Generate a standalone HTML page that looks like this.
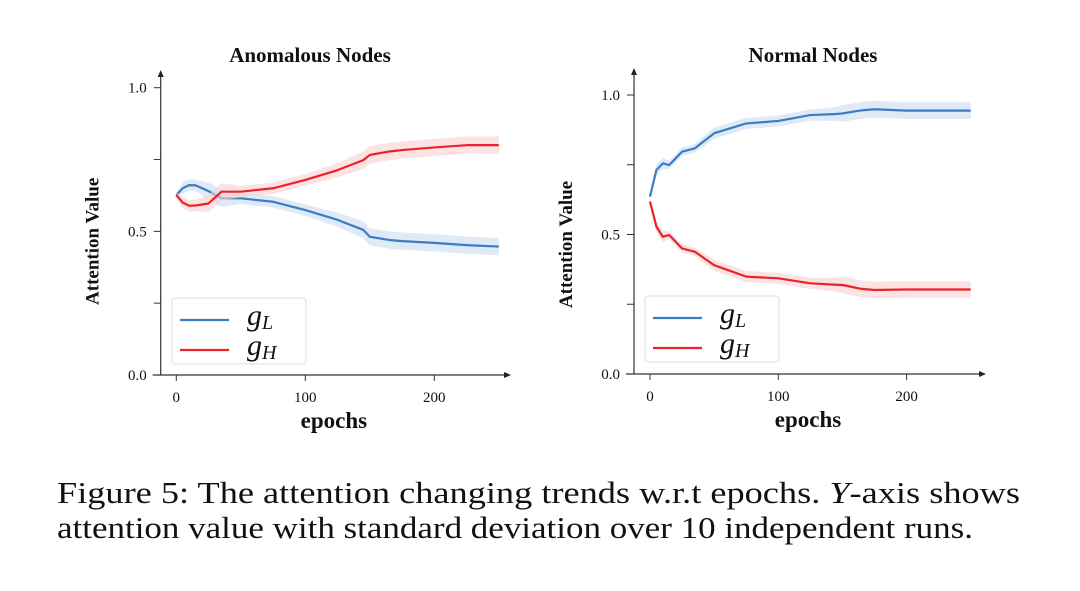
<!DOCTYPE html>
<html><head><meta charset="utf-8"><style>
html,body{margin:0;padding:0;background:#fff;}
svg text{font-family:"Liberation Serif",serif;fill:#111;}
</style></head><body>
<svg id="fig" width="1080" height="586" viewBox="0 0 1080 586" xmlns="http://www.w3.org/2000/svg">
<text x="310" y="62" font-size="21" font-weight="bold" text-anchor="middle">Anomalous Nodes</text>
<text x="813" y="62" font-size="21" font-weight="bold" text-anchor="middle">Normal Nodes</text>
<text x="57" y="503" font-size="31" textLength="963" lengthAdjust="spacingAndGlyphs">Figure 5: The attention changing trends w.r.t epochs. <tspan font-style="italic">Y</tspan>-axis shows</text>
<text x="57" y="538" font-size="31" textLength="916" lengthAdjust="spacingAndGlyphs">attention value with standard deviation over 10 independent runs.</text>
</svg>
<script>
const epochs = [0,5,10,15,25,35,50,75,100,125,145,150,165,175,200,225,250];
const anomL = [0.626,0.650,0.661,0.660,0.640,0.615,0.615,0.603,0.574,0.540,0.505,0.481,0.470,0.466,0.460,0.452,0.447];
const anomH = [0.626,0.600,0.589,0.590,0.597,0.638,0.638,0.650,0.679,0.713,0.748,0.766,0.778,0.783,0.792,0.800,0.800];
const anomStd = [0.01,0.02,0.02,0.02,0.03,0.03,0.02,0.02,0.02,0.025,0.03,0.03,0.03,0.03,0.03,0.03,0.03];
const normL = [0.636,0.731,0.755,0.749,0.797,0.809,0.863,0.898,0.907,0.928,0.932,0.934,0.945,0.949,0.944,0.944,0.944];
const normH = [0.618,0.528,0.492,0.498,0.450,0.438,0.390,0.349,0.343,0.325,0.320,0.319,0.305,0.301,0.303,0.303,0.303];
const normStd = [0.01,0.02,0.02,0.015,0.015,0.015,0.02,0.02,0.02,0.02,0.025,0.03,0.03,0.03,0.03,0.03,0.03];
const xTicks = [0,100,200];
const yTickLabels = ['0.0','0.5','1.0'];
const yTicks = [0,0.25,0.5,0.75,1.0];

const NS='http://www.w3.org/2000/svg';
const svg=document.getElementById('fig');
function mk(tag,attrs,parent){const e=document.createElementNS(NS,tag);for(const k in attrs)e.setAttribute(k,attrs[k]);(parent||svg).appendChild(e);return e;}

function panel(p){
  const g=mk('g',{});
  
  
  const sx=v=>p.x0+(v/100)*(p.x100-p.x0);
  const sy=v=>p.y0+v*(p.y1-p.y0);
  [[p.L,'#3b7dc4','#c9dcf0','series-gl'],[p.H,'#e8242a','#f8cfd0','series-gh']].forEach(([arr,c,fc,nm])=>{
    let up=epochs.map((e,i)=>sx(e)+','+sy(arr[i]+p.std[i]));
    let dn=epochs.map((e,i)=>sx(e)+','+sy(arr[i]-p.std[i])).reverse();
    const band=mk('polygon',{points:up.concat(dn).join(' '),fill:fc,'fill-opacity':0.6},g);
    
    
    const ln=mk('polyline',{points:epochs.map((e,i)=>sx(e)+','+sy(arr[i])).join(' '),fill:'none',stroke:c,'stroke-width':2.2,'stroke-linejoin':'round'},g);
    
    
  });
  const ya=mk('line',{x1:p.ax,y1:p.y0,x2:p.ax,y2:p.top+4,stroke:'#333','stroke-width':1.2},g);
  
  
  mk('polygon',{points:`${p.ax-3},${p.top+7} ${p.ax+3},${p.top+7} ${p.ax},${p.top}`,fill:'#222'},g);
  const xa=mk('line',{x1:p.ax-8,y1:p.y0,x2:p.right-4,y2:p.y0,stroke:'#333','stroke-width':1.2},g);
  
  
  mk('polygon',{points:`${p.right-7},${p.y0-3} ${p.right-7},${p.y0+3} ${p.right},${p.y0}`,fill:'#222'},g);
  yTicks.forEach(v=>{mk('line',{x1:p.ax-7,y1:sy(v),x2:p.ax,y2:sy(v),stroke:'#333','stroke-width':1},g);});
  yTickLabels.forEach(s=>{
    const t=mk('text',{x:p.ax-14,y:sy(parseFloat(s))+5,'font-size':15,'text-anchor':'end'},g);
    t.textContent=s;
    
    
  });
  xTicks.forEach(v=>{
    mk('line',{x1:sx(v),y1:p.y0,x2:sx(v),y2:p.y0+6,stroke:'#333','stroke-width':1},g);
    const t=mk('text',{x:sx(v),y:p.y0+27,'font-size':15,'text-anchor':'middle'},g);
    t.textContent=v;
    
    
  });
  const xl=mk('text',{x:(p.ax+p.right)/2-2,y:p.y0+53,'font-size':23,'font-weight':'bold','text-anchor':'middle'},g);
  xl.textContent='epochs';
  
  
  const yl=mk('text',{x:0,y:0,'font-size':19,'font-weight':'bold','text-anchor':'middle',transform:`translate(${p.ax-62},${(p.y0+p.y1)/2+10}) rotate(-90)`},g);
  yl.textContent='Attention Value';
  
  
  const lg=mk('g',{},g);
  
  
  mk('rect',{x:p.lx,y:p.ly,width:134,height:66,rx:3,fill:'#fff','fill-opacity':0.85,stroke:'#ddd','stroke-width':1},lg);
  [['#3b7dc4','L',22],['#e8242a','H',52]].forEach(([c,s,dy])=>{
    mk('line',{x1:p.lx+8,y1:p.ly+dy,x2:p.lx+57,y2:p.ly+dy,stroke:c,'stroke-width':2.2},lg);
    const t=mk('text',{x:p.lx+75,y:p.ly+dy+5,'font-size':30,'font-style':'italic'},lg);
    t.textContent='g';
    const ts=mk('tspan',{'font-size':20,dy:4},t);
    ts.textContent=s;
    
    
  });
}
panel({name:'anomalous-nodes-chart',L:anomL,H:anomH,std:anomStd,ax:160.7,x0:176.3,x100:305.3,y0:375,y1:87.7,top:70,right:511,lx:172,ly:298});
panel({name:'normal-nodes-chart',L:normL,H:normH,std:normStd,ax:634,x0:650,x100:778.3,y0:374,y1:95,top:68,right:986,lx:645,ly:296});
</script>
</body></html>
